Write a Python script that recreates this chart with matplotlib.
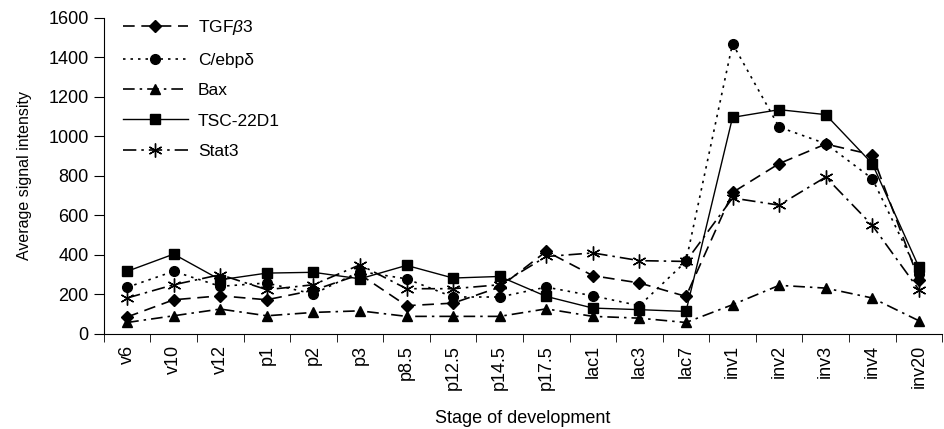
import numpy as np
import matplotlib
matplotlib.use('Agg')
from matplotlib import pyplot as plt

plt.rcParams['font.family'] = ['Liberation Sans', 'DejaVu Sans']
plt.rcParams['mathtext.fontset'] = 'custom'
plt.rcParams['mathtext.it'] = 'Liberation Sans:italic'

stages = ['v6', 'v10', 'v12', 'p1', 'p2', 'p3', 'p8.5', 'p12.5', 'p14.5', 'p17.5',
          'lac1', 'lac3', 'lac7', 'inv1', 'inv2', 'inv3', 'inv4', 'inv20']

tgfb3 = [85, 172, 192, 172, 220, 300, 142, 155, 236, 417, 294, 257, 189, 715, 861, 960, 906, 273]
cebpd = [235, 316, 240, 257, 201, 315, 278, 186, 186, 236, 192, 142, 366, 1468, 1046, 962, 785, 300]
bax = [57, 91, 125, 91, 108, 116, 88, 88, 88, 126, 88, 79, 57, 147, 245, 231, 181, 66]
tsc22d1 = [316, 403, 273, 307, 311, 278, 346, 282, 290, 189, 130, 122, 113, 1095, 1134, 1109, 861, 338]
stat3 = [181, 248, 299, 223, 248, 349, 228, 228, 248, 391, 409, 370, 366, 687, 651, 793, 549, 223]

x = np.arange(len(stages))

fig = plt.figure(figsize=(9.44, 4.29), dpi=100)
ax = fig.add_axes([0.110, 0.222, 0.888, 0.737])

fs = 13
ax.plot(x, tgfb3, color='black', lw=1.2, ls=(0, (7, 4)), marker='D', ms=6,
        label='TGF$\\mathit{\\beta}$3')
ax.plot(x, cebpd, color='black', lw=1.2, ls=(0, (1.5, 3)), marker='o', ms=7,
        label='C/ebp\u03b4')
ax.plot(x, bax, color='black', lw=1.2, ls=(0, (7, 3, 1.5, 3)), marker='^', ms=7.5,
        label='Bax')
ax.plot(x, tsc22d1, color='black', lw=1.0, ls='-', marker='s', ms=7,
        label='TSC-22D1')
ax.plot(x, stat3, color='black', lw=1.2, ls=(0, (8, 3, 1.5, 3)), marker=(6, 2, 0), ms=10,
        mew=1.0, label='Stat3')

ax.set_xlim(-0.5, len(stages) - 0.5)
ax.set_ylim(0, 1600)
ax.set_yticks(np.arange(0, 1601, 200))
ax.set_xticks(x)
ax.set_xticklabels(stages, rotation=90, fontsize=fs)
ax.set_xticks(np.arange(-0.5, len(stages), 1), minor=True)
ax.tick_params(axis='x', which='major', length=0, pad=8)
ax.tick_params(axis='x', which='minor', length=6, direction='out')
ax.tick_params(axis='y', labelsize=fs, length=7, direction='out', pad=4)

for s in ['top', 'right']:
    ax.spines[s].set_visible(False)

ax.set_ylabel('Average signal intensity', fontsize=11.5, labelpad=12)
ax.set_xlabel('Stage of development', fontsize=fs, labelpad=14.5)

ax.legend(loc='upper left', frameon=False, fontsize=12.5, handlelength=3.7,
          handletextpad=0.6, labelspacing=0.88, borderaxespad=0.0,
          bbox_to_anchor=(0.015, 1.02))

fig.savefig('out.png', dpi=100)
